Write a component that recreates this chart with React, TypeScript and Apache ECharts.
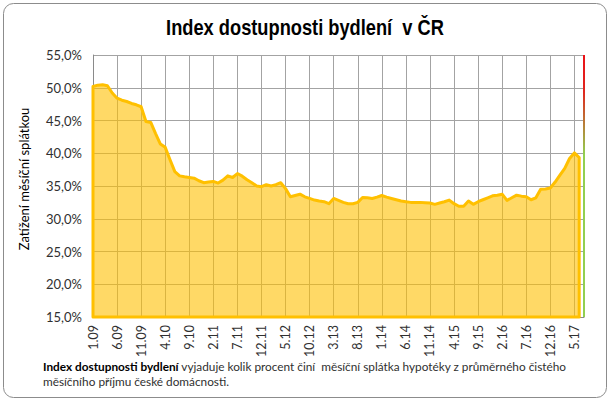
import React, { useEffect, useRef } from "react";
import * as echarts from "echarts";

// Months from 1.09 to 7.17 (axis runs one month past the last value)
const categories: string[] = [
  "1.09","2.09","3.09","4.09","5.09","6.09","7.09","8.09","9.09","10.09","11.09","12.09",
  "1.10","2.10","3.10","4.10","5.10","6.10","7.10","8.10","9.10","10.10","11.10","12.10",
  "1.11","2.11","3.11","4.11","5.11","6.11","7.11","8.11","9.11","10.11","11.11","12.11",
  "1.12","2.12","3.12","4.12","5.12","6.12","7.12","8.12","9.12","10.12","11.12","12.12",
  "1.13","2.13","3.13","4.13","5.13","6.13","7.13","8.13","9.13","10.13","11.13","12.13",
  "1.14","2.14","3.14","4.14","5.14","6.14","7.14","8.14","9.14","10.14","11.14","12.14",
  "1.15","2.15","3.15","4.15","5.15","6.15","7.15","8.15","9.15","10.15","11.15","12.15",
  "1.16","2.16","3.16","4.16","5.16","6.16","7.16","8.16","9.16","10.16","11.16","12.16",
  "1.17","2.17","3.17","4.17","5.17","6.17","7.17",
];

// Index dostupnosti bydlení (%), monthly from 1.09 to 6.17
const values: number[] = [
  50.2, 50.4, 50.45, 50.3, 49.2, 48.4, 48.1, 47.9, 47.6, 47.4, 47.1, 44.85,
  44.7, 43.0, 41.4, 40.9, 39.0, 37.2, 36.55, 36.4, 36.3, 36.2, 35.8, 35.5,
  35.6, 35.7, 35.45, 35.9, 36.55, 36.3, 36.9, 36.5, 35.95, 35.5, 35.0, 34.9,
  35.2, 35.0, 35.2, 35.5, 34.6, 33.35, 33.55, 33.75, 33.35, 33.1, 32.85, 32.7,
  32.6, 32.3, 33.1, 32.8, 32.5, 32.3, 32.3, 32.5, 33.25, 33.2, 33.1, 33.3,
  33.55, 33.3, 33.1, 32.9, 32.7, 32.6, 32.5, 32.5, 32.5, 32.45, 32.4, 32.2,
  32.4, 32.6, 32.85, 32.3, 31.9, 31.9, 32.7, 32.2, 32.6, 32.9, 33.2, 33.5,
  33.6, 33.75, 32.8, 33.2, 33.6, 33.45, 33.35, 32.9, 33.2, 34.5, 34.55, 34.7,
  35.6, 36.65, 37.7, 39.2, 40.05, 39.35,
];

const Y_MIN = 15;
const Y_MAX = 55;
const Y_STEP = 5;

const TITLE = "Index dostupnosti bydlení  v ČR";
const Y_NAME = "Zatížení měsíční splátkou";
const NOTE_BOLD = "Index dostupnosti bydlení";
const NOTE_REST_1 = " vyjaduje kolik procent činí  měsíční splátka hypotéky z průměrného čistého";
const NOTE_LINE_2 = "měsíčního příjmu české domácnosti.";

const W = 610;
const H = 401;
const GRID_LEFT = 93;
const GRID_RIGHT = 26;
const GRID_TOP = 55;
const GRID_BOTTOM = 84;

const LABEL_FONT = "Lato, 'Open Sans', sans-serif";

export default function App() {
  const ref = useRef<HTMLDivElement>(null);

  useEffect(() => {
    if (!ref.current) return;
    const chart = echarts.init(ref.current, null, { renderer: "svg" });
    const plotRight = W - GRID_RIGHT;
    const plotBottom = H - GRID_BOTTOM;

    chart.setOption({
      animation: false,
      backgroundColor: "#ffffff",
      grid: {
        left: GRID_LEFT,
        right: GRID_RIGHT,
        top: GRID_TOP,
        bottom: GRID_BOTTOM,
        containLabel: false,
      },
      xAxis: {
        type: "category",
        data: categories,
        boundaryGap: false,
        axisLine: { show: true, lineStyle: { color: "#8a8a8a", width: 1 } },
        axisTick: { show: false },
        axisLabel: {
          interval: 4,
          rotate: 90,
          margin: 8,
          padding: [7, 0, 0, 0],
          fontFamily: LABEL_FONT,
          fontSize: 12.5,
          color: "#303030",
        },
        splitLine: {
          show: true,
          interval: 4,
          lineStyle: { color: "#a3a3a3", width: 1 },
        },
      },
      yAxis: {
        type: "value",
        min: Y_MIN,
        max: Y_MAX,
        interval: Y_STEP,
        name: Y_NAME,
        nameLocation: "middle",
        nameGap: 63,
        nameTextStyle: {
          fontFamily: LABEL_FONT,
          fontSize: 13,
          color: "#000000",
          padding: [0, 0, 0, 14],
        },
        axisLine: { show: true, lineStyle: { color: "#8a8a8a", width: 1 } },
        axisTick: { show: false },
        axisLabel: {
          margin: 11,
          fontFamily: LABEL_FONT,
          fontSize: 13,
          color: "#303030",
          formatter: (v: number) => v.toFixed(1).replace(".", ",") + "%",
        },
        splitLine: { show: true, lineStyle: { color: "#a3a3a3", width: 1 } },
      },
      series: [
        {
          type: "custom",
          name: "Index dostupnosti bydlení",
          data: values.map((v, i) => [i, v]),
          clip: false,
          renderItem: (params: any, api: any) => {
            if (params.dataIndex !== 0) return null;
            const pts = values.map((v, i) => api.coord([i, v]));
            pts.push(api.coord([values.length - 1, Y_MIN]));
            pts.push(api.coord([0, Y_MIN]));
            return {
              type: "polygon",
              shape: { points: pts },
              style: {
                fill: "rgba(255,192,0,0.6)",
                stroke: "#FFC000",
                lineWidth: 3,
                lineJoin: "round",
              },
            };
          },
        },
      ],
      graphic: [
        {
          type: "rect",
          shape: { x: 3.5, y: 3.5, width: W - 7, height: H - 7, r: 10 },
          style: { fill: "none", stroke: "#8c8c8c", lineWidth: 1 },
          silent: true,
        },
        {
          type: "text",
          x: W / 2,
          y: 27,
          scaleX: 0.83,
          style: {
            text: TITLE,
            fontFamily: "'Liberation Sans', Arial, sans-serif",
            fontWeight: "bold",
            fontSize: 22,
            fill: "#000000",
            align: "center",
            verticalAlign: "middle",
          },
          silent: true,
        },
        {
          type: "rect",
          shape: { x: plotRight - 1, y: GRID_TOP, width: 2, height: plotBottom - GRID_TOP },
          style: {
            fill: new echarts.graphic.LinearGradient(0, 0, 0, 1, [
              { offset: 0, color: "#ea1218" },
              { offset: 0.14, color: "#e0261e" },
              { offset: 0.38, color: "#92d050" },
              { offset: 1, color: "#92d050" },
            ]),
          },
          silent: true,
          z: 10,
        },
        {
          type: "text",
          left: 43,
          top: 360,
          style: {
            text: "{b|" + NOTE_BOLD + "}{n|" + NOTE_REST_1 + "}\n{n|" + NOTE_LINE_2 + "}",
            rich: {
              b: { fontFamily: LABEL_FONT, fontSize: 11.8, fontWeight: "bold", fill: "#000000", lineHeight: 15 },
              n: { fontFamily: LABEL_FONT, fontSize: 11.8, fill: "#303030", lineHeight: 15 },
            },
          },
        },
      ],
    });

    return () => chart.dispose();
  }, []);

  return (
    <div
      ref={ref}
      style={{ position: "fixed", left: 0, top: 0, width: W, height: H, background: "#ffffff" }}
    />
  );
}
